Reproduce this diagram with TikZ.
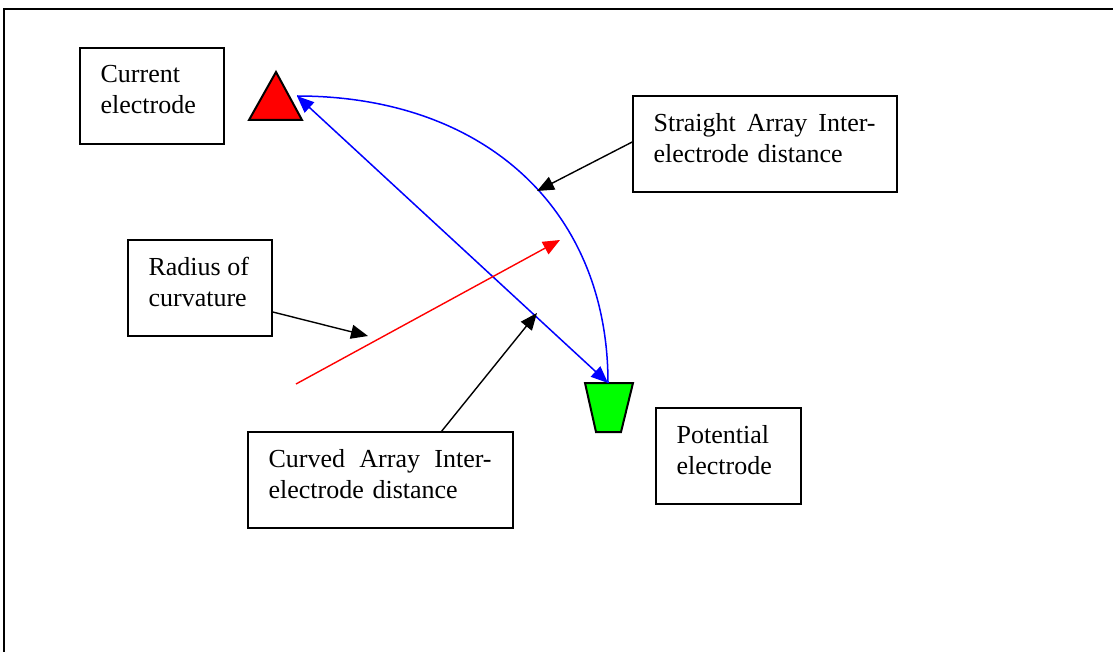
\documentclass[tikz,border=0pt]{standalone}
\usepackage{fontspec}
\setmainfont{Liberation Serif}
\usetikzlibrary{arrows.meta}
\begin{document}
\begin{tikzpicture}[x=0.5pt,y=-0.5pt,
  box/.style={draw, line width=0.8pt, inner sep=0pt},
  txt/.style={anchor=north west, inner sep=0pt, align=left,
    font=\fontsize{13}{15.5}\selectfont},
  tip/.style={Triangle[length=8.5pt,width=7pt]},
  blk/.style={draw=black, line width=0.7pt, -{Triangle[length=8.5pt,width=7pt]}},
  blu/.style={draw=blue, line width=0.75pt},
  electrode/.style={draw=black, line width=1pt, line join=miter}
]
\useasboundingbox (0,0) rectangle (1113,652);
% frame
\draw[line width=1.2pt] (1113,9) -- (4,9) -- (4,652);

% boxes
\node[box, minimum width=72pt, minimum height=48pt] (cur) at (152,96) {};
\node[box, minimum width=132pt, minimum height=48pt] (str) at (765,144) {};
\node[box, minimum width=72pt, minimum height=48pt] (rad) at (200,288) {};
\node[box, minimum width=132.5pt, minimum height=48pt] (crv) at (380.5,480) {};
\node[box, minimum width=72.5pt, minimum height=48pt] (pot) at (728.5,456) {};

% texts
\node[txt] (curT) at ([xshift=10.5pt,yshift=-9pt]cur.north west) {Current\\electrode};
\node[txt, text width=111pt] (strT) at ([xshift=10.5pt,yshift=-9pt]str.north west) {Straight\hfill Array\hfill Inter-\\electrode distance};
\node[txt] (radT) at ([xshift=10.5pt,yshift=-9pt]rad.north west) {Radius of\\curvature};
\node[txt, text width=111.5pt] (crvT) at ([xshift=10.5pt,yshift=-9pt]crv.north west) {Curved\hfill Array\hfill Inter-\\electrode distance};
\node[txt] (potT) at ([xshift=10.5pt,yshift=-9pt]pot.north west) {Potential\\electrode};

% electrodes
\draw[electrode, fill=red] (276,72) -- (302,120) -- (249,120) -- cycle;
\draw[electrode, fill=green] (585,383) -- (633,383) -- (621,432) -- (596,432) -- cycle;

% connector points
\coordinate (cA) at (297,96);
\coordinate (pA) at (608,383);
\coordinate (rS) at (296,384);
\coordinate (rE) at (560,240);
\coordinate (sT) at (537,191);
\coordinate (rT) at (368,336);
\coordinate (cT) at (537,313);

% blue curve and straight line
\draw[blu] (cA) .. controls (485,96) and (608,210) .. (pA);
\draw[blu, {Triangle[length=8.5pt,width=7pt]}-{Triangle[length=8.5pt,width=7pt]}] (cA) -- (pA);

% red radius arrow
\draw[draw=red, line width=0.7pt, -{Triangle[length=8.5pt,width=7pt]}] (rS) -- (rE);

% black label arrows
\draw[blk] (str.west |- 0,142) -- (sT);
\draw[blk] (rad.east |- 0,312) -- (rT);
\draw[blk] (441,432) -- (cT);
\end{tikzpicture}
\end{document}
